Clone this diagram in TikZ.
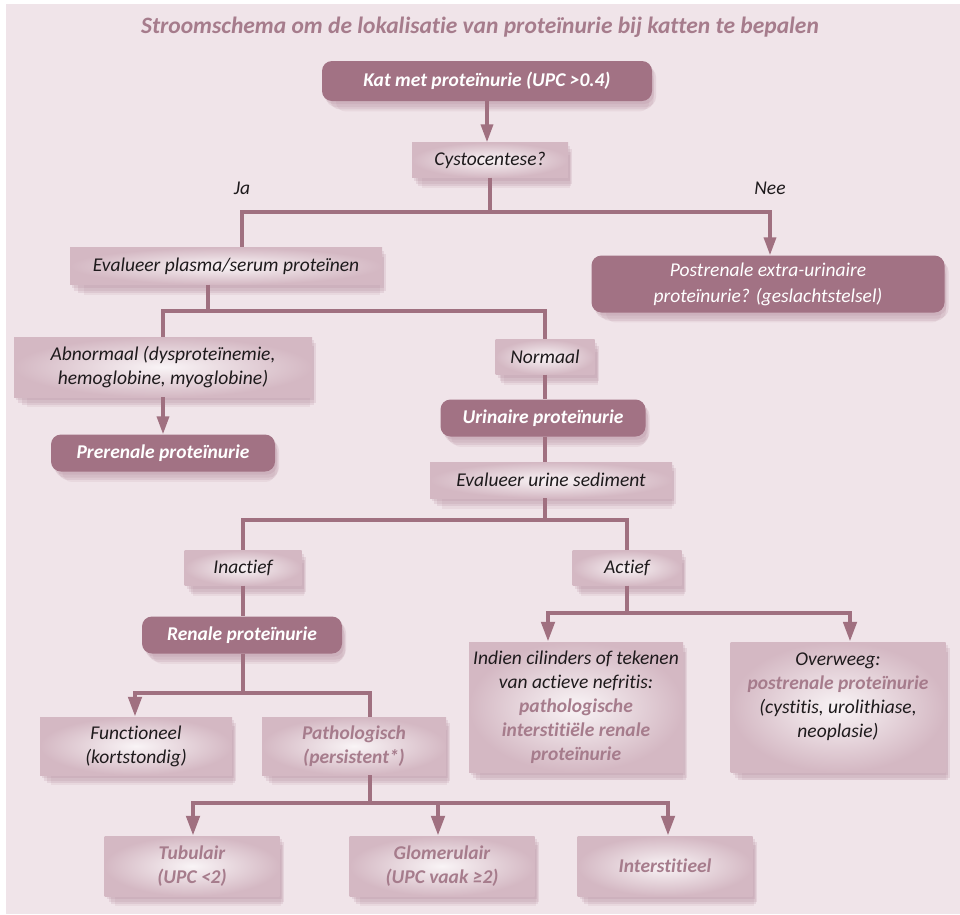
\documentclass[tikz,border=0pt]{standalone}
\usepackage{fontspec}
\setmainfont{Carlito}[Ligatures=NoCommon]
\usetikzlibrary{arrows.meta,shadows}
\definecolor{bgc}{HTML}{F0E4E9}
\definecolor{mauve}{HTML}{A27284}
\definecolor{linec}{HTML}{A07080}
\definecolor{hl}{HTML}{A67C8C}
\definecolor{lightout}{HTML}{D4B8C3}
\definecolor{lightin}{HTML}{F9F4F6}
\definecolor{shc}{HTML}{B08596}
\definecolor{txt}{HTML}{1E1A1C}
\begin{document}
\begin{tikzpicture}[x=1pt,y=-1pt,
  softshadow/.style={
    drop shadow={shadow xshift=2pt, shadow yshift=-3pt, fill=shc, opacity=.18},
    drop shadow={shadow xshift=4pt, shadow yshift=-6pt, fill=shc, opacity=.18},
    drop shadow={shadow xshift=5pt, shadow yshift=-9pt, shadow scale=.98, fill=shc, opacity=.18},
    drop shadow={shadow xshift=6pt, shadow yshift=-12pt, shadow scale=.95, fill=shc, opacity=.12}},
  darkbox/.style={rectangle, rounded corners=10pt, fill=mauve, text=white,
    font=\fontsize{19.5}{25}\selectfont\bfseries\itshape, align=center, inner sep=2pt,
    softshadow},
  darkplain/.style={darkbox, font=\fontsize{19.5}{26}\selectfont\itshape},
  lightbox/.style={rectangle, inner color=lightin, outer color=lightout, text=txt,
    font=\fontsize{19.5}{24}\selectfont\itshape, align=center, inner sep=2pt,
    softshadow},
  hlbox/.style={lightbox, text=hl, font=\fontsize{19.5}{24}\selectfont\bfseries\itshape},
  labeltext/.style={font=\fontsize{19.5}{22}\selectfont\itshape, text=txt},
  conn/.style={draw=linec, line width=3.5pt},
  connb/.style={draw=linec, line width=4.5pt},
  arr/.style={conn, -{Triangle[width=12pt,length=18pt]}},
  arrb/.style={connb, -{Triangle[width=13pt,length=20pt]}}]
\useasboundingbox (0,0) rectangle (960,914);
\fill[white] (0,0) rectangle (960,914);
\fill[bgc] (6,4) rectangle (960,914);

\node[font=\fontsize{23.5}{28}\selectfont\bfseries\itshape, text=hl] (title) at (480,27)
  {Stroomschema om de lokalisatie van proteïnurie bij katten te bepalen};

% nodes
\node[darkbox, minimum width=330pt, minimum height=40pt] (kat) at (487,81) {Kat met proteïnurie (UPC >0.4)};
\node[lightbox, minimum width=156pt, minimum height=35pt] (cysto) at (490,160) {Cystocentese?};
\node[labeltext] (ja) at (242,188) {Ja};
\node[labeltext] (nee) at (770,188) {Nee};
\node[lightbox, minimum width=312pt, minimum height=37pt] (evalp) at (226,266) {Evalueer plasma/serum proteïnen};
\node[darkplain, minimum width=353pt, minimum height=57pt] (post) at (768,284) {Postrenale extra-urinaire\\proteïnurie? (geslachtstelsel)};
\node[lightbox, minimum width=298pt, minimum height=60pt] (abn) at (163,367) {Abnormaal (dysproteïnemie,\\hemoglobine, myoglobine)};
\node[darkbox, minimum width=224pt, minimum height=37pt] (prer) at (163,453) {Prerenale proteïnurie};
\node[lightbox, minimum width=99pt, minimum height=35pt] (norm) at (545,357) {Normaal};
\node[darkbox, minimum width=205pt, minimum height=37pt] (urin) at (543,418) {Urinaire proteïnurie};
\node[lightbox, minimum width=242pt, minimum height=36pt] (evalu) at (551,480) {Evalueer urine sediment};
\node[lightbox, minimum width=117pt, minimum height=35pt] (inact) at (243,568) {Inactief};
\node[lightbox, minimum width=109pt, minimum height=35pt] (act) at (627,568) {Actief};
\node[darkbox, minimum width=200pt, minimum height=37pt] (renal) at (242,635) {Renale proteïnurie};
\node[lightbox, minimum width=192pt, minimum height=58pt] (func) at (136,746) {Functioneel\\(kortstondig)};
\node[hlbox, minimum width=184pt, minimum height=58pt] (path) at (354,746) {Pathologisch\\(persistent*)};
\node[lightbox, minimum width=214pt, minimum height=130pt] (indien) at (576,707)
  {Indien cilinders of tekenen\\van actieve nefritis:\\{\bfseries\color{hl}pathologische}\\{\bfseries\color{hl}interstitiële renale}\\{\bfseries\color{hl}proteïnurie}};
\node[lightbox, minimum width=215pt, minimum height=130pt, text depth=0pt] (overw) at (838,707)
  {Overweeg:\\{\bfseries\color{hl}postrenale proteïnurie}\\(cystitis, urolithiase,\\neoplasie)\\\strut};
\node[hlbox, minimum width=175pt, minimum height=60pt] (tub) at (192,866) {Tubulair\\(UPC <2)};
\node[hlbox, minimum width=185pt, minimum height=60pt] (glom) at (442,866) {Glomerulair\\(UPC vaak ≥2)};
\node[hlbox, minimum width=175pt, minimum height=60pt] (inter) at (665,866) {Interstitieel};

% junction coordinates
\coordinate (j1) at (490,212);
\coordinate (jaL) at (242,212);
\coordinate (neeR) at (770,212);
\coordinate (j2) at (208,311);
\coordinate (j3) at (545,520);
\coordinate (j4) at (243,693);
\coordinate (fa) at (135,693);
\coordinate (pa) at (370,693);
\coordinate (j5) at (370,803);
\coordinate (ta) at (193,803);
\coordinate (ga) at (438,803);
\coordinate (ia) at (668,803);
\coordinate (j6) at (627,613);
\coordinate (la) at (548,613);
\coordinate (ra) at (850,613);

% connectors
\draw[arr] (kat.south) -- (kat.south |- cysto.north);
\draw[conn] (cysto.south) -- (j1);
\draw[conn] (j1) -- (jaL) -- (jaL |- evalp.north);
\draw[arr] (j1) -- (neeR) -- (neeR |- post.north);
\draw[conn] (evalp.south -| j2) -- (j2);
\draw[conn] (j2) -| (abn.north);
\draw[conn] (j2) -| (norm.north);
\draw[arr] (abn.south) -- (prer.north);
\draw[conn] (norm.south) -- (norm.south |- urin.north);
\draw[conn] (urin.south -| j3) -- (evalu.north -| j3);
\draw[conn] (evalu.south -| j3) -- (j3);
\draw[conn] (j3) -| (inact.north);
\draw[conn] (j3) -| (act.north);
\draw[conn] (inact.south) -- (inact.south |- renal.north);
\draw[connb] (renal.south -| j4) -- (j4);
\draw[arrb] (j4) -- (fa) -- (fa |- func.north);
\draw[connb] (j4) -- (pa) -- (pa |- path.north);
\draw[connb] (path.south -| j5) -- (j5);
\draw[arrb] (j5) -- (ta) -- (ta |- tub.north);
\draw[arrb] (j5) -- (ga) -- (ga |- glom.north);
\draw[arrb] (j5) -- (ia) -- (ia |- inter.north);
\draw[conn] (act.south) -- (j6);
\draw[arrb] (j6) -- (la) -- (la |- indien.north);
\draw[arrb] (j6) -- (ra) -- (ra |- overw.north);
\end{tikzpicture}
\end{document}
